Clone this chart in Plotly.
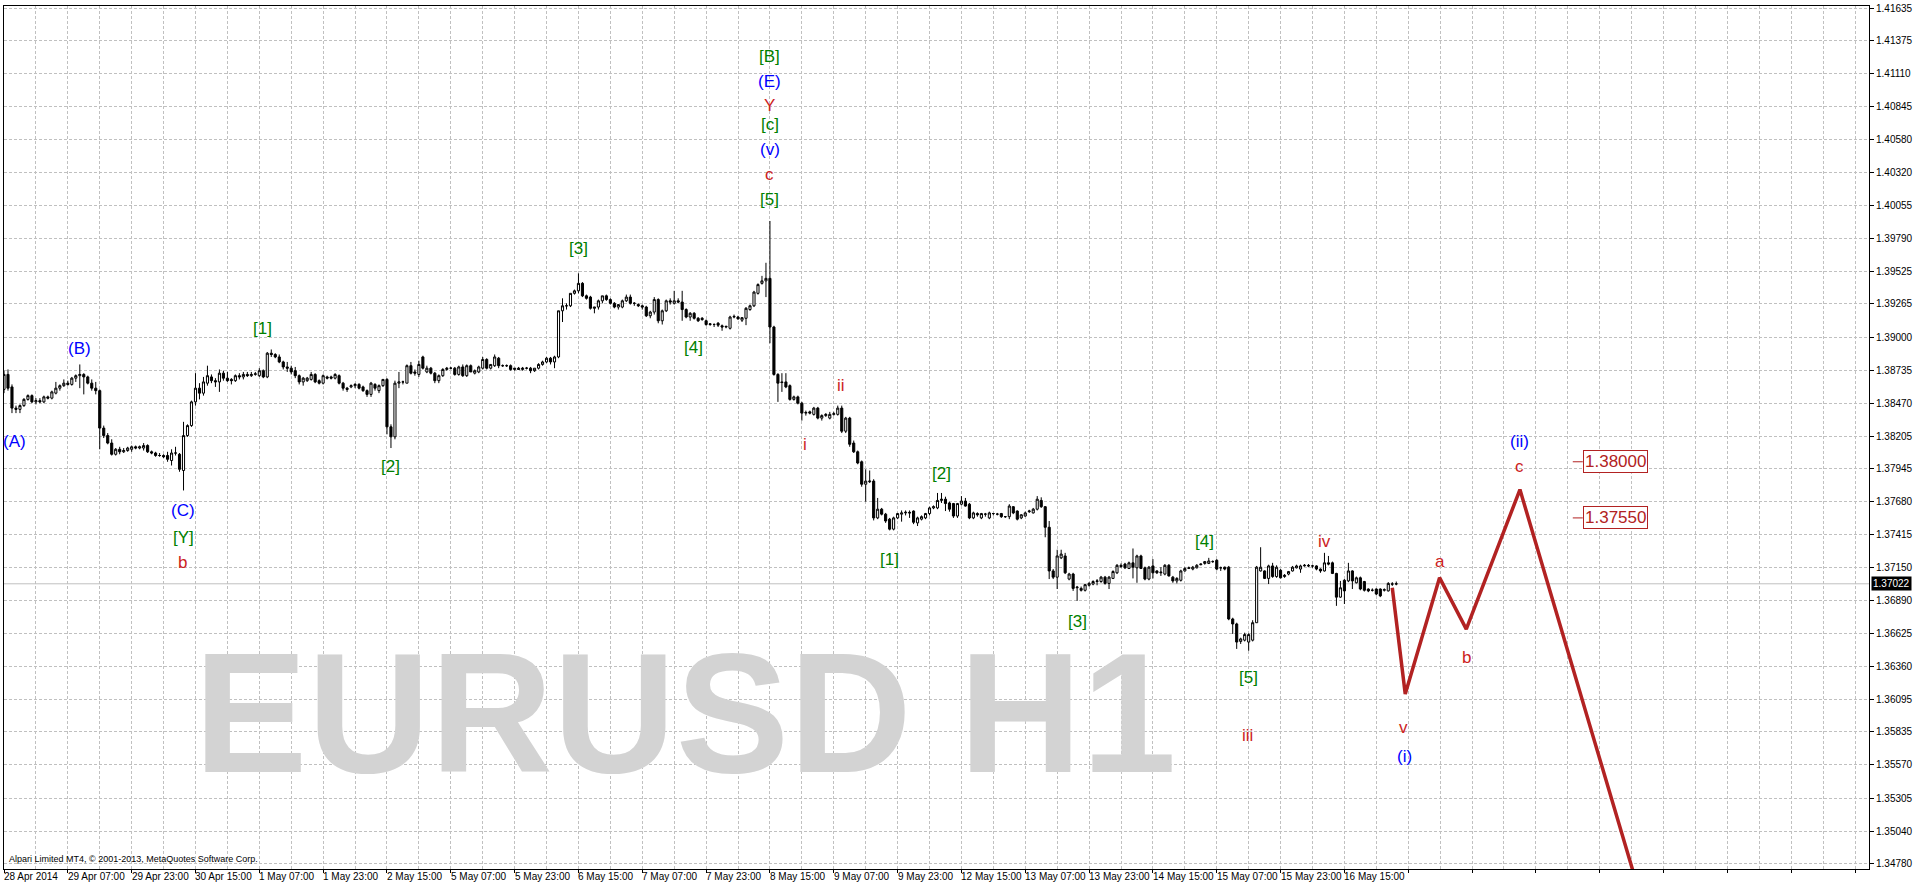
import plotly.graph_objects as go

# ---------------- data (EURUSD H1) ----------------
opens = [
 1.3858,1.3870,1.3860,1.3843,1.3842,1.3845,1.3850,1.3853,1.3848,1.3849,
 1.3848,1.3852,1.3851,1.3855,1.3859,1.3861,1.3863,1.3862,1.3867,1.3869,
 1.3870,1.3868,1.3863,1.3859,1.3857,1.3827,1.3821,1.3815,1.3806,1.3810,
 1.3808,1.3809,1.3810,1.3812,1.3811,1.3811,1.3813,1.3808,1.3807,1.3805,
 1.3805,1.3805,1.3801,1.3807,1.3806,1.3793,1.3821,1.3829,1.3848,1.3859,
 1.3855,1.3863,1.3868,1.3865,1.3864,1.3871,1.3867,1.3866,1.3865,1.3869,
 1.3868,1.3870,1.3869,1.3870,1.3869,1.3873,1.3868,1.3887,1.3886,1.3884,
 1.3880,1.3876,1.3875,1.3873,1.3869,1.3864,1.3865,1.3866,1.3870,1.3865,
 1.3863,1.3868,1.3868,1.3867,1.3869,1.3863,1.3859,1.3860,1.3861,1.3862,
 1.3860,1.3857,1.3854,1.3862,1.3857,1.3861,1.3866,1.3828,1.3820,1.3863,
 1.3864,1.3863,1.3877,1.3872,1.3870,1.3884,1.3872,1.3875,1.3871,1.3865,
 1.3869,1.3874,1.3875,1.3875,1.3870,1.3876,1.3869,1.3877,1.3871,1.3872,
 1.3875,1.3882,1.3875,1.3877,1.3883,1.3877,1.3877,1.3877,1.3874,1.3875,
 1.3874,1.3875,1.3875,1.3873,1.3875,1.3878,1.3880,1.3883,1.3880,1.3884,
 1.3921,1.3925,1.3925,1.3935,1.3937,1.3943,1.3933,1.3932,1.3923,1.3924,
 1.3929,1.3933,1.3930,1.3927,1.3924,1.3924,1.3929,1.3932,1.3927,1.3926,
 1.3925,1.3924,1.3917,1.3920,1.3930,1.3913,1.3921,1.3929,1.3927,1.3929,
 1.3928,1.3922,1.3916,1.3919,1.3915,1.3915,1.3913,1.3910,1.3910,1.3911,
 1.3909,1.3908,1.3907,1.3916,1.3916,1.39135,1.3915,1.3922,1.3925,1.3935,
 1.3943,1.3945,1.3947,1.3908,1.3870,1.3864,1.3864,1.3861,1.3850,1.3852,
 1.3847,1.3839,1.3840,1.3838,1.3843,1.3835,1.3837,1.3835,1.3838,1.3838,
 1.3843,1.38245,1.3835,1.3815,1.3808,1.3800,1.3782,1.3784,1.37845,1.3755,
 1.3762,1.3758,1.3754,1.3746,1.3755,1.3758,1.3759,1.37595,1.37605,1.3751,
 1.3754,1.3755,1.37585,1.3763,1.3763,1.3769,1.3770,1.3767,1.37665,1.37565,
 1.3766,1.37685,1.3766,1.3755,1.37585,1.3755,1.3758,1.3755,1.37585,1.3758,
 1.37585,1.3756,1.3756,1.3764,1.37605,1.3755,1.37565,1.3760,1.3759,1.3762,
 1.3769,1.3764,1.37475,1.37125,1.37075,1.3723,1.37245,1.3706,1.3710,1.3699,
 1.36985,1.3697,1.3701,1.3702,1.3704,1.3704,1.37075,1.37025,1.37065,1.3711,
 1.3717,1.3718,1.37145,1.3719,1.3715,1.37245,1.3715,1.3706,1.37165,1.37125,
 1.3711,1.3710,1.3717,1.37075,1.37045,1.3705,1.37125,1.37145,1.3714,1.3715,
 1.37175,1.37185,1.37185,1.3720,1.3721,1.3715,1.37155,1.37155,1.3674,1.3670,
 1.3656,1.3657,1.36555,1.3657,1.3671,1.37125,1.37125,1.37065,1.37165,1.3708,
 1.3713,1.3708,1.3710,1.37125,1.3715,1.3714,1.37165,1.3717,1.37165,1.37165,
 1.3714,1.37125,1.3719,1.3719,1.37105,1.36915,1.3705,1.37045,1.37125,1.3703,
 1.3707,1.3704,1.3698,1.3697,1.3698,1.3698,1.3697,1.36965,1.3702,1.3702,
]
highs = [
 1.3873,1.3874,1.3862,1.3845,1.3846,1.3851,1.3854,1.3854,1.3851,1.3851,
 1.3853,1.3853,1.3857,1.3864,1.3862,1.3866,1.3865,1.3868,1.3870,1.3878,
 1.3871,1.3869,1.3866,1.3864,1.3858,1.3829,1.3823,1.3818,1.3811,1.3812,
 1.3811,1.3812,1.3813,1.3813,1.3813,1.3815,1.3814,1.3809,1.3808,1.3807,
 1.3806,1.3808,1.3810,1.3812,1.3807,1.3832,1.3830,1.3849,1.3871,1.3863,
 1.3868,1.3877,1.3870,1.3867,1.3874,1.3873,1.3872,1.3867,1.3870,1.3871,
 1.3872,1.3872,1.3872,1.3872,1.3875,1.3874,1.3888,1.3890,1.3887,1.3886,
 1.3881,1.3880,1.3877,1.3876,1.3870,1.3868,1.3868,1.3872,1.3871,1.3866,
 1.3870,1.3869,1.3869,1.3871,1.3870,1.3864,1.3860,1.3862,1.3863,1.3863,
 1.3861,1.3858,1.3864,1.3863,1.3862,1.3866,1.3867,1.3830,1.3865,1.3872,
 1.3865,1.3878,1.3880,1.3874,1.3881,1.3885,1.3877,1.3876,1.3872,1.3870,
 1.3875,1.3876,1.3876,1.3876,1.3877,1.3878,1.3878,1.3878,1.3874,1.3877,
 1.3884,1.3883,1.3878,1.3886,1.3884,1.3878,1.3878,1.3878,1.3875,1.3876,
 1.3876,1.3876,1.3876,1.3875,1.3879,1.3881,1.3884,1.3884,1.3885,1.3921,
 1.3931,1.3927,1.3935,1.3938,1.3951,1.3944,1.3934,1.3933,1.3924,1.3930,
 1.3933,1.3934,1.3931,1.3928,1.3926,1.3930,1.3934,1.3934,1.3928,1.3927,
 1.3926,1.3925,1.3921,1.3932,1.3931,1.3922,1.3930,1.3931,1.3937,1.3931,
 1.3937,1.3923,1.3920,1.3920,1.3916,1.3916,1.3914,1.3911,1.3911,1.3912,
 1.3910,1.3909,1.3917,1.3918,1.3917,1.3916,1.3924,1.3926,1.3937,1.3943,
 1.3949,1.39595,1.3993,1.3909,1.3871,1.3871,1.3871,1.3862,1.3853,1.3853,
 1.3848,1.3841,1.3841,1.3844,1.3844,1.3838,1.3839,1.3840,1.3840,1.3845,
 1.3845,1.3836,1.3836,1.3817,1.3809,1.3801,1.3794,1.3793,1.3786,1.3771,
 1.3763,1.3759,1.3755,1.3756,1.3759,1.3761,1.3761,1.3761,1.3761,1.3756,
 1.3757,1.3759,1.3764,1.3765,1.3775,1.3775,1.3772,1.3768,1.3767,1.3767,
 1.37725,1.3771,1.3767,1.3760,1.37595,1.3759,1.3759,1.3760,1.3759,1.3759,
 1.3759,1.37565,1.3766,1.37645,1.3761,1.3758,1.3760,1.37615,1.3763,1.37725,
 1.37715,1.37645,1.37525,1.3714,1.37295,1.37295,1.3727,1.3711,1.3711,1.37005,
 1.3700,1.3702,1.37035,1.3705,1.3706,1.37085,1.37085,1.37085,1.3713,1.3718,
 1.37185,1.3719,1.3720,1.37305,1.37255,1.37255,1.3716,1.37165,1.3722,1.3713,
 1.37155,1.3718,1.3718,1.37085,1.37075,1.37135,1.37155,1.3716,1.37165,1.3718,
 1.37185,1.37205,1.3723,1.3721,1.3722,1.3716,1.3716,1.37165,1.3675,1.3671,
 1.3659,1.3663,1.36625,1.3673,1.37165,1.37315,1.3713,1.37175,1.3719,1.3717,
 1.3714,1.3710,1.37125,1.37165,1.37175,1.37175,1.3718,1.3718,1.37175,1.3717,
 1.37145,1.3727,1.37245,1.3720,1.3711,1.37045,1.3706,1.3719,1.3713,1.3708,
 1.3708,1.37045,1.36985,1.36985,1.36985,1.36985,1.36985,1.37035,1.37035,1.3704,
]
lows = [
 1.3855,1.3857,1.3839,1.3839,1.3839,1.3844,1.3849,1.3847,1.3846,1.3847,
 1.3847,1.3850,1.3850,1.3854,1.3857,1.3860,1.3861,1.3861,1.3864,1.3859,
 1.3854,1.3862,1.3857,1.3854,1.3810,1.3819,1.3814,1.3805,1.3805,1.3806,
 1.3807,1.3808,1.3808,1.3810,1.3810,1.3809,1.3807,1.3806,1.3804,1.3804,
 1.3803,1.3800,1.3797,1.3805,1.3792,1.3777,1.3820,1.3828,1.3845,1.3850,
 1.3853,1.3861,1.3863,1.3860,1.3856,1.3865,1.3864,1.3862,1.3864,1.3866,
 1.3866,1.3868,1.3868,1.3869,1.3868,1.3867,1.3867,1.3884,1.3883,1.3879,
 1.3874,1.3872,1.3870,1.3867,1.3862,1.3861,1.3864,1.3865,1.3863,1.3862,
 1.3862,1.3866,1.3866,1.3866,1.3862,1.3857,1.3856,1.3859,1.3859,1.3858,
 1.3856,1.3852,1.3852,1.3857,1.3855,1.3860,1.3822,1.3811,1.3818,1.3859,
 1.3862,1.3863,1.3870,1.3869,1.3868,1.3874,1.3871,1.3870,1.3863,1.3863,
 1.3868,1.3873,1.3874,1.3869,1.3869,1.3868,1.3868,1.3872,1.3870,1.3871,
 1.3874,1.3874,1.3874,1.3876,1.3875,1.3876,1.3876,1.3873,1.3873,1.3874,
 1.3873,1.3874,1.3871,1.3872,1.3874,1.3877,1.3879,1.3878,1.3875,1.3883,
 1.3912,1.3922,1.3924,1.3934,1.3935,1.3932,1.3930,1.3922,1.3919,1.3922,
 1.3927,1.3929,1.3926,1.3923,1.3922,1.3923,1.3928,1.3926,1.3925,1.3924,
 1.3922,1.3916,1.3915,1.3918,1.3911,1.3910,1.3920,1.3926,1.3926,1.3927,
 1.3913,1.3915,1.3913,1.3914,1.3912,1.3913,1.3909,1.3909,1.3908,1.3908,
 1.3905,1.3907,1.3906,1.3915,1.3914,1.3912,1.39095,1.3921,1.3924,1.3934,
 1.3942,1.3932,1.3895,1.3869,1.3848,1.3856,1.3859,1.3849,1.3849,1.3846,
 1.3833,1.3837,1.3838,1.3837,1.3834,1.3833,1.3836,1.3834,1.3837,1.3837,
 1.3823,1.3823,1.3812,1.3807,1.3798,1.3780,1.3768,1.3783,1.3753,1.3754,
 1.3757,1.3751,1.3745,1.3745,1.3754,1.3752,1.3757,1.3755,1.3750,1.37485,
 1.3753,1.3754,1.3757,1.3762,1.3762,1.3767,1.37605,1.3760,1.3755,1.3755,
 1.3765,1.3764,1.3754,1.3754,1.3756,1.3754,1.3756,1.3754,1.3757,1.3757,
 1.3755,1.3755,1.3754,1.3758,1.3753,1.3754,1.3756,1.3759,1.37585,1.3761,
 1.3763,1.37395,1.3706,1.3706,1.3698,1.3722,1.3710,1.3705,1.36965,1.36885,
 1.3696,1.3696,1.3700,1.3701,1.3701,1.3703,1.37015,1.3698,1.3706,1.3710,
 1.3715,1.3714,1.3714,1.37065,1.3703,1.3714,1.3705,1.3705,1.37065,1.3710,
 1.37085,1.3709,1.3708,1.3703,1.37025,1.3704,1.3712,1.3714,1.3713,1.37145,
 1.3717,1.37175,1.3718,1.3719,1.3713,1.37125,1.3713,1.3673,1.3662,1.3650,
 1.3654,1.3656,1.36485,1.3656,1.3671,1.3712,1.3706,1.3702,1.3707,1.3707,
 1.37065,1.3707,1.3709,1.3712,1.37145,1.3711,1.3716,1.37155,1.3715,1.3713,
 1.3711,1.3712,1.3717,1.3710,1.36845,1.3691,1.3686,1.37035,1.3698,1.37025,
 1.3697,1.3696,1.36955,1.3696,1.3693,1.36915,1.3696,1.3696,1.37005,1.3701,
]
closes = [
 1.3870,1.3859,1.3843,1.3842,1.3845,1.3850,1.3853,1.3848,1.3849,1.3848,
 1.3852,1.3851,1.3856,1.3859,1.3861,1.3863,1.3862,1.3867,1.3869,1.3870,
 1.3868,1.3863,1.3859,1.3857,1.3827,1.3821,1.3815,1.3806,1.3810,1.3808,
 1.3809,1.3811,1.3812,1.3811,1.3812,1.3813,1.3808,1.3807,1.3805,1.3805,
 1.3804,1.3802,1.3807,1.3807,1.3794,1.3821,1.3829,1.3848,1.3859,1.3855,
 1.3864,1.3869,1.3865,1.3864,1.3871,1.3867,1.3865,1.3865,1.3869,1.3868,
 1.3870,1.3869,1.3870,1.38705,1.3873,1.3868,1.3887,1.3886,1.3884,1.3880,
 1.3876,1.3875,1.3872,1.3869,1.3864,1.3867,1.3867,1.3870,1.3864,1.3863,
 1.3869,1.3867,1.3867,1.3870,1.3863,1.3859,1.3858,1.3861,1.3862,1.3859,
 1.3857,1.3854,1.3863,1.3859,1.3861,1.3866,1.3828,1.3820,1.3863,1.3864,
 1.3864,1.3877,1.3871,1.3871,1.3878,1.3875,1.3875,1.3871,1.3865,1.3869,
 1.3874,1.3875,1.3875,1.3870,1.3876,1.3869,1.3877,1.3872,1.3873,1.3876,
 1.3882,1.3875,1.3878,1.3884,1.3877,1.3877,1.3877,1.3874,1.3875,1.3874,
 1.3875,1.3875,1.3873,1.3875,1.3878,1.3880,1.3883,1.3880,1.3884,1.3921,
 1.3925,1.3925,1.3935,1.3937,1.3943,1.3933,1.3931,1.3923,1.3924,1.3929,
 1.3933,1.3930,1.3927,1.3924,1.3926,1.3929,1.3932,1.3927,1.3927,1.3925,
 1.3924,1.3917,1.3920,1.3930,1.3913,1.3921,1.3929,1.3928,1.3929,1.3928,
 1.3922,1.3916,1.3919,1.3915,1.3913,1.3914,1.3910,1.39105,1.3910,1.39095,
 1.3908,1.39085,1.3916,1.39165,1.39145,1.39155,1.3923,1.3925,1.3936,1.3942,
 1.3945,1.3947,1.3908,1.3870,1.3863,1.38635,1.3860,1.3850,1.3852,1.3847,
 1.3839,1.38395,1.3839,1.3843,1.3835,1.3837,1.3838,1.3838,1.38385,1.3843,
 1.38245,1.3835,1.3814,1.3808,1.3799,1.3782,1.37845,1.37845,1.3755,1.3762,
 1.3758,1.37525,1.3746,1.3755,1.37585,1.3759,1.37595,1.3759,1.37515,1.3755,
 1.3756,1.37585,1.3763,1.3764,1.3769,1.3770,1.37665,1.3762,1.37565,1.37665,
 1.37685,1.37645,1.3755,1.3759,1.37575,1.37585,1.3758,1.3759,1.37585,1.3758,
 1.3756,1.3756,1.37645,1.3759,1.3754,1.37575,1.3759,1.37605,1.3762,1.3770,
 1.3764,1.37475,1.37125,1.37075,1.37245,1.3726,1.3711,1.3710,1.36985,1.36995,
 1.3697,1.37015,1.37025,1.3704,1.37045,1.37075,1.37025,1.37075,1.3712,1.3717,
 1.3716,1.3715,1.3719,1.37155,1.37245,1.37145,1.3706,1.37155,1.3711,1.3711,
 1.37115,1.3717,1.37085,1.37045,1.37065,1.37125,1.37145,1.3715,1.37155,1.3717,
 1.3718,1.3720,1.37205,1.3720,1.3714,1.3715,1.3714,1.3674,1.3670,1.36555,
 1.3658,1.36615,1.36615,1.3671,1.37155,1.37155,1.37065,1.37165,1.3708,1.37155,
 1.3707,1.3709,1.3712,1.37155,1.37165,1.37165,1.3717,1.37165,1.37165,1.3714,
 1.37125,1.3719,1.3718,1.37105,1.36915,1.3699,1.36965,1.37125,1.37045,1.3707,
 1.3698,1.3697,1.36965,1.3697,1.3694,1.36925,1.36975,1.37025,1.3702,1.37022,
]
bar_index = list(range(len(closes)))

time_tick_bars = [0, 16, 32, 48, 64, 80, 96, 112, 128, 144, 160, 176, 192,
                  208, 224, 240, 256, 272, 288, 304, 320, 336]
time_tick_labels = ["28 Apr 2014", "29 Apr 07:00", "29 Apr 23:00", "30 Apr 15:00",
                    "1 May 07:00", "1 May 23:00", "2 May 15:00", "5 May 07:00",
                    "5 May 23:00", "6 May 15:00", "7 May 07:00", "7 May 23:00",
                    "8 May 15:00", "9 May 07:00", "9 May 23:00", "12 May 15:00",
                    "13 May 07:00", "13 May 23:00", "14 May 15:00", "15 May 07:00",
                    "15 May 23:00", "16 May 15:00"]

price_ticks = [1.41635, 1.41375, 1.41110, 1.40845, 1.40580, 1.40320, 1.40055,
               1.39790, 1.39525, 1.39265, 1.39000, 1.38735, 1.38470, 1.38205,
               1.37945, 1.37680, 1.37415, 1.37150, 1.36890, 1.36625, 1.36360,
               1.36095, 1.35835, 1.35570, 1.35305, 1.35040, 1.34780]
price_tick_labels = ["%.5f" % p for p in price_ticks]

current_price = 1.37022

forecast_x = [348.0, 351.25, 359.85, 366.55, 380.0, 410.0]
forecast_y = [1.3699, 1.36139, 1.37071, 1.36659, 1.37777, 1.3454]

target_prices = [1.38000, 1.37550]
target_labels = ["1.38000", "1.37550"]

BLUE, GREEN, RED = "#0000FF", "#008000", "#CC2222"
wave_text = ["(A)", "(B)", "[1]", "(C)", "[Y]", "b", "[2]", "[3]", "[4]",
             "[B]", "(E)", "Y", "[c]", "(v)", "c", "[5]",
             "i", "ii", "[1]", "[2]", "[3]", "[4]", "[5]", "iii", "iv",
             "v", "(i)", "a", "b", "c", "(ii)"]
wave_x = [2.75, 19.0, 64.9, 44.8, 44.9, 44.8, 96.9, 144.0, 172.8,
          191.9, 191.9, 191.9, 191.9, 191.9, 191.9, 191.9,
          200.9, 209.9, 221.9, 234.9, 269.0, 300.9, 312.0, 311.75, 330.9,
          350.85, 351.1, 359.85, 366.6, 379.9, 379.9]
wave_y = [1.38162, 1.38908, 1.39067, 1.37609, 1.37390, 1.37190, 1.37963, 1.39706, 1.38913,
          1.41251, 1.41051, 1.40856, 1.40705, 1.40505, 1.40305, 1.40106,
          1.38141, 1.38615, 1.37217, 1.37904, 1.36717, 1.37364, 1.36267, 1.35810, 1.37358,
          1.35868, 1.35638, 1.37204, 1.36432, 1.37963, 1.38162]
wave_color = [BLUE, BLUE, GREEN, BLUE, GREEN, RED, GREEN, GREEN, GREEN,
              GREEN, BLUE, RED, GREEN, BLUE, RED, GREEN,
              RED, RED, GREEN, GREEN, GREEN, GREEN, GREEN, RED, RED,
              RED, BLUE, RED, RED, RED, BLUE]

watermark_text = "EURUSD H1"
watermark_x, watermark_y = 170.8, 1.3599

# ---------------- figure ----------------
GRID = "#C0C0C0"
FONT = "Liberation Sans, Arial, sans-serif"
fig = go.Figure()

# watermark drawn first (as annotation, it sits beneath later annotations)
fig.add_annotation(x=watermark_x, y=watermark_y, xref="x", yref="y",
                   text="<b>" + watermark_text + "</b>",
                   showarrow=False, xanchor="center", yanchor="middle",
                   font=dict(family=FONT, size=170, color="#D3D3D3"))

fig.add_trace(go.Candlestick(
    x=bar_index, open=opens, high=highs, low=lows, close=closes,
    increasing=dict(line=dict(color="black", width=1), fillcolor="white"),
    decreasing=dict(line=dict(color="black", width=1), fillcolor="black"),
    whiskerwidth=0, hoverinfo="skip", showlegend=False))

fig.add_trace(go.Scatter(
    x=forecast_x, y=forecast_y, mode="lines",
    line=dict(color="#B22222", width=3.5), hoverinfo="skip", showlegend=False))

for tp, tl in zip(target_prices, target_labels):
    fig.add_trace(go.Scatter(x=[393.25, 395.75], y=[tp, tp], mode="lines",
                             line=dict(color="#B22222", width=1),
                             hoverinfo="skip", showlegend=False))
    fig.add_annotation(x=395.75, y=tp, xref="x", yref="y", text=tl, showarrow=False,
                       xanchor="left", yanchor="middle",
                       font=dict(family=FONT, size=17, color="#B22222"),
                       bordercolor="#B22222", borderwidth=1, borderpad=1, bgcolor="white")

fig.add_shape(type="line", xref="paper", x0=0, x1=1, yref="y",
              y0=current_price, y1=current_price,
              line=dict(color=GRID, width=1), layer="between")

for t, x, y, c in zip(wave_text, wave_x, wave_y, wave_color):
    fig.add_annotation(x=x, y=y, xref="x", yref="y", text=t, showarrow=False,
                       xanchor="center", yanchor="middle",
                       font=dict(family=FONT, size=17, color=c))

# time labels (left-aligned at the bar, MT4 style)
for b, lab in zip(time_tick_bars, time_tick_labels):
    fig.add_annotation(x=b, y=-0.0087, xref="x", yref="paper", text=lab, showarrow=False,
                       xanchor="left", yanchor="middle", xshift=-2,
                       font=dict(family=FONT, size=10, color="black"))

# current price tag
fig.add_annotation(x=1, y=current_price, xref="paper", yref="y", text="1.37022",
                   showarrow=False, xanchor="left", yanchor="middle", xshift=2,
                   font=dict(family=FONT, size=10, color="white"),
                   bgcolor="black", borderpad=1)

fig.add_annotation(x=0.0016, y=0.012, xref="paper", yref="paper",
                   text="Alpari Limited MT4, \u00a9 2001-2013, MetaQuotes Software Corp.",
                   showarrow=False, xanchor="left", yanchor="middle",
                   font=dict(family=FONT, size=9, color="black"))

fig.update_layout(
    width=1916, height=884,
    margin=dict(l=3, r=43, t=3, b=15),
    paper_bgcolor="white", plot_bgcolor="white",
    boxgap=0.25, hovermode=False, showlegend=False,
    xaxis=dict(range=[0, 467.5], tickmode="linear", tick0=0, dtick=16,
               ticks="outside", ticklen=3, tickcolor="black", showticklabels=False,
               showgrid=True, gridcolor=GRID, griddash="3px,2px", gridwidth=1,
               minor=dict(tick0=0, dtick=8, showgrid=True, gridcolor=GRID,
                          griddash="3px,2px", gridwidth=1, ticks=""),
               showline=True, linecolor="black", linewidth=1, mirror=True,
               zeroline=False, rangeslider=dict(visible=False), fixedrange=True),
    yaxis=dict(range=[1.34736, 1.41653], side="right",
               tickmode="array", tickvals=price_ticks, ticktext=price_tick_labels,
               ticks="outside", ticklen=4, tickcolor="black",
               tickfont=dict(family=FONT, size=10, color="black"),
               showgrid=True, gridcolor=GRID, griddash="3px,2px", gridwidth=1,
               showline=True, linecolor="black", linewidth=1, mirror=True,
               zeroline=False, fixedrange=True),
)

fig.write_html("out.html", config={"displayModeBar": False},
               post_script="document.body.style.margin='0';document.body.style.overflow='hidden';")
